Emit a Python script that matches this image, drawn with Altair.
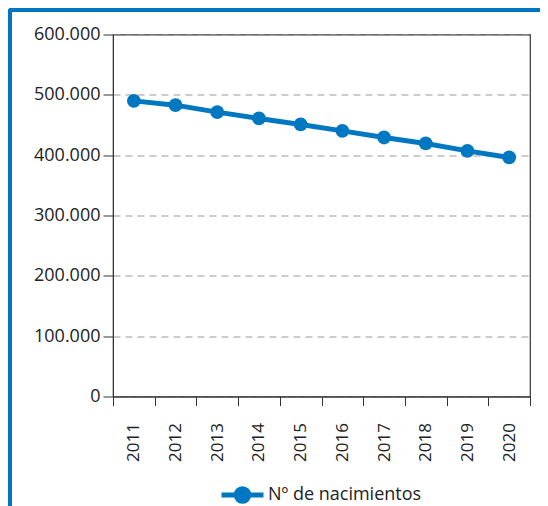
import altair as alt
import pandas as pd

years = ["2011", "2012", "2013", "2014", "2015", "2016", "2017", "2018", "2019", "2020"]
births = [490000, 482900, 471300, 460900, 450900, 440300, 429300, 419400, 407100, 396200]
series_name = "Nº de nacimientos"
y_ticks = [0, 100000, 200000, 300000, 400000, 500000, 600000]

df = pd.DataFrame({"year": years, "births": births, "serie": [series_name] * len(years)})

BLUE = "#0077C1"
FONT = "Open Sans"

x_enc = alt.X("year:N", sort=years, title=None,
              scale=alt.Scale(paddingInner=0, paddingOuter=0),
              axis=alt.Axis(labelAngle=-90, tickBand="extent", tickSize=9, labelPadding=17,
                            labelFontSize=17, labelFont=FONT, labelColor="#222",
                            domainColor="#333", tickColor="#333", grid=False,
                            labelAlign="right", labelBaseline="middle"))
y_enc = alt.Y("births:Q", title=None,
              scale=alt.Scale(domain=[0, 600000], nice=False),
              axis=alt.Axis(values=y_ticks, tickSize=10, labelPadding=3,
                            labelFontSize=18, labelFont=FONT, labelColor="#222",
                            domainColor="#333", tickColor="#333",
                            grid=True, gridColor="#999", gridDash=[7, 5], gridWidth=1,
                            labelExpr="datum.value == 0 ? '0' : format(datum.value / 1000, 'd') + '.000'"))

color_scale = alt.Scale(domain=[series_name], range=[BLUE])
color_enc = alt.Color("serie:N", scale=color_scale,
                      legend=alt.Legend(title=None, orient="none", legendX=115, legendY=446,
                                        symbolType="M-3,0L3,0M-0.9,0A0.9,0.9 0 1,1 0.9,0A0.9,0.9 0 1,1 -0.9,0Z",
                                        symbolSize=196, symbolStrokeWidth=5,
                                        symbolFillColor=BLUE, symbolStrokeColor=BLUE,
                                        symbolOpacity=1,
                                        labelFontSize=18, labelFont=FONT, labelColor="#222",
                                        labelOffset=16, padding=5))

base = alt.Chart(df)
line = base.mark_line(strokeWidth=5).encode(x=x_enc, y=y_enc, color=color_enc)
pts = base.mark_point(filled=True, size=190, opacity=1, color=BLUE).encode(x=x_enc, y=y_enc)

frame_left = alt.Chart(df).mark_rule(color=BLUE, strokeWidth=3).encode(
    x=alt.value(-103), y=alt.value(-25), y2=alt.value(480))
frame_top = alt.Chart(df).mark_rule(color=BLUE, strokeWidth=3).encode(
    x=alt.value(-104), x2=alt.value(440), y=alt.value(-24.5))

chart = alt.layer(frame_left, frame_top, line, pts).properties(
    width=417, height=362,
    autosize=alt.AutoSizeParams(type="none"),
    padding={"left": 105, "top": 26.5, "right": 10, "bottom": 109},
    background="white",
).configure_view(stroke="#333", strokeWidth=1.2)

chart.save("out.html", embed_options={"renderer": "svg", "actions": False})
